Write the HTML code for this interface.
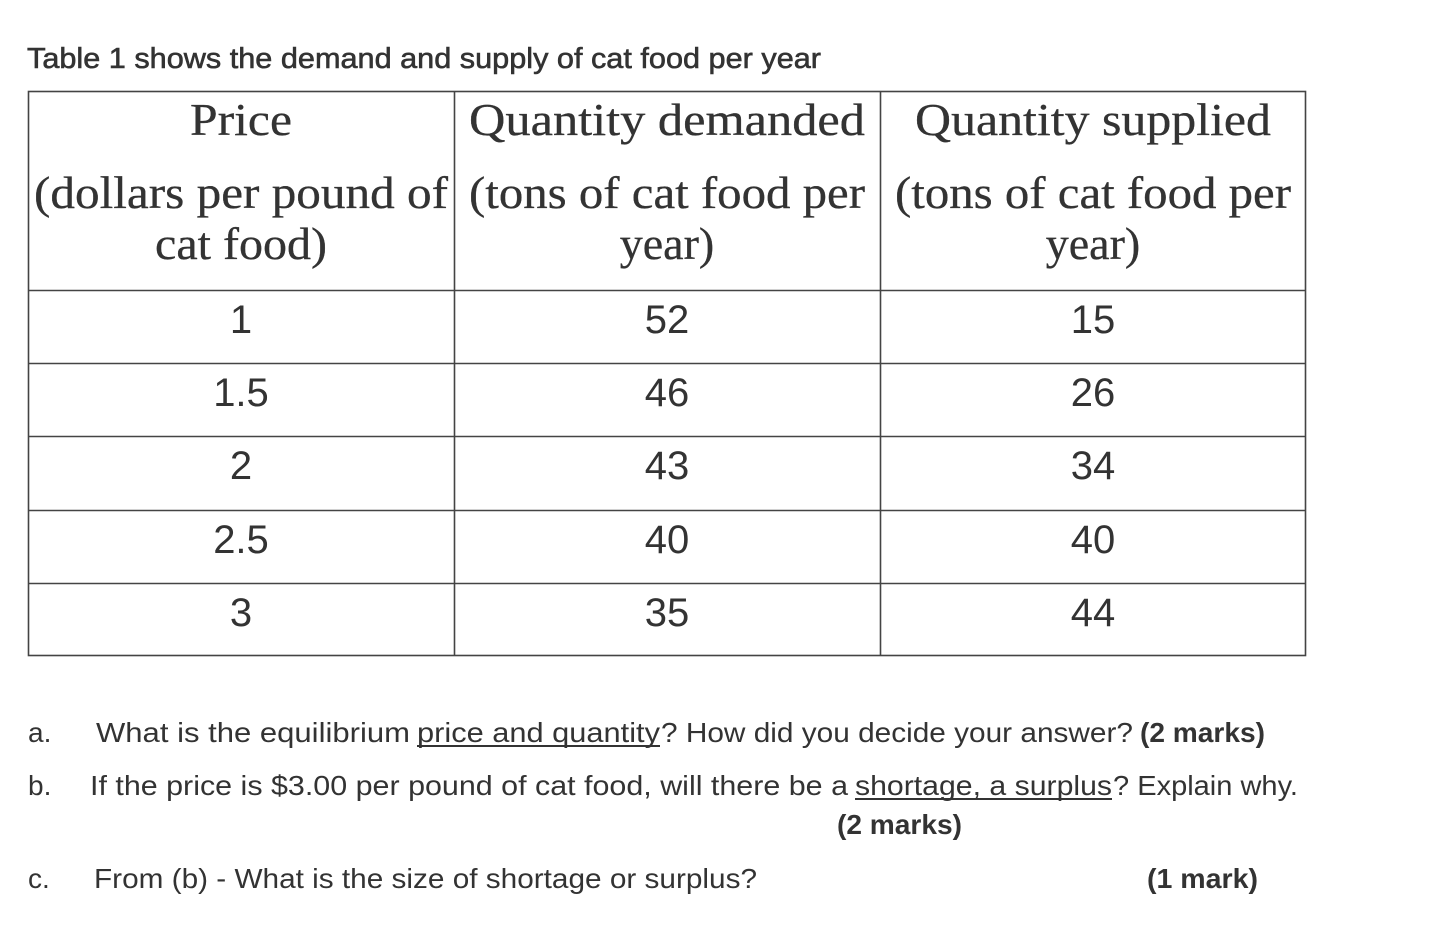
<!DOCTYPE html>
<html><head><meta charset="utf-8"><style>
html,body{margin:0;padding:0;background:#fff;}
svg{display:block}
.h{font-family:"Liberation Serif",serif;font-size:46px;fill:#333;text-anchor:middle;stroke:#333;stroke-width:0.3}
.d{font-family:"Liberation Sans",sans-serif;font-size:40px;fill:#333;text-anchor:middle}
.q{font-family:"Liberation Sans",sans-serif;font-size:28px;fill:#333}
.b{font-weight:bold}
</style></head><body>
<svg width="1432" height="933" viewBox="0 0 1432 933">
<text class="q" x="27" y="68" textLength="794" lengthAdjust="spacingAndGlyphs" style="font-size:29px;stroke:#333;stroke-width:0.6">Table 1 shows  the demand and supply of cat food per year</text>
<g stroke="#444" stroke-width="1.6" fill="none">
<rect x="28.5" y="91.5" width="1277" height="564"/>
<line x1="454.5" y1="91" x2="454.5" y2="656"/>
<line x1="880.5" y1="91" x2="880.5" y2="656"/>
<line x1="28" y1="290.5" x2="1306" y2="290.5"/>
<line x1="28" y1="363.5" x2="1306" y2="363.5"/>
<line x1="28" y1="436.5" x2="1306" y2="436.5"/>
<line x1="28" y1="510.5" x2="1306" y2="510.5"/>
<line x1="28" y1="583.5" x2="1306" y2="583.5"/>
</g>
<text class="h" x="241" y="135" textLength="102" lengthAdjust="spacingAndGlyphs">Price</text>
<text class="h" x="241" y="208" textLength="414" lengthAdjust="spacingAndGlyphs">(dollars per pound of</text>
<text class="h" x="241" y="259" textLength="172" lengthAdjust="spacingAndGlyphs">cat food)</text>
<text class="h" x="667" y="135" textLength="396" lengthAdjust="spacingAndGlyphs">Quantity demanded</text>
<text class="h" x="667" y="208" textLength="396" lengthAdjust="spacingAndGlyphs">(tons of cat food per</text>
<text class="h" x="667" y="259">year)</text>
<text class="h" x="1093" y="135" textLength="356" lengthAdjust="spacingAndGlyphs">Quantity supplied</text>
<text class="h" x="1093" y="208" textLength="396" lengthAdjust="spacingAndGlyphs">(tons of cat food per</text>
<text class="h" x="1093" y="259">year)</text>
<g class="d">
<text class="d" x="241" y="333">1</text><text class="d" x="667" y="333">52</text><text class="d" x="1093" y="333">15</text>
<text class="d" x="241" y="406">1.5</text><text class="d" x="667" y="406">46</text><text class="d" x="1093" y="406">26</text>
<text class="d" x="241" y="479">2</text><text class="d" x="667" y="479">43</text><text class="d" x="1093" y="479">34</text>
<text class="d" x="241" y="553">2.5</text><text class="d" x="667" y="553">40</text><text class="d" x="1093" y="553">40</text>
<text class="d" x="241" y="626">3</text><text class="d" x="667" y="626">35</text><text class="d" x="1093" y="626">44</text>
</g>
<text class="q" x="28" y="742">a.</text>
<text class="q" x="96" y="742" textLength="314" lengthAdjust="spacingAndGlyphs">What is the equilibrium</text>
<text class="q" x="417" y="742" textLength="243" lengthAdjust="spacingAndGlyphs">price and quantity</text>
<line x1="417" y1="746" x2="660" y2="746" stroke="#333" stroke-width="2"/>
<text class="q" x="661" y="742" textLength="472" lengthAdjust="spacingAndGlyphs">? How did you decide your answer?</text>
<text class="q b" x="1140" y="742" textLength="125" lengthAdjust="spacingAndGlyphs">(2 marks)</text>
<text class="q" x="28" y="795">b.</text>
<text class="q" x="90" y="795" textLength="758" lengthAdjust="spacingAndGlyphs">If the price is $3.00 per pound of cat food, will there be a</text>
<text class="q" x="855" y="795" textLength="257" lengthAdjust="spacingAndGlyphs">shortage, a surplus</text>
<line x1="855" y1="799" x2="1112" y2="799" stroke="#333" stroke-width="2"/>
<text class="q" x="1113" y="795" textLength="185" lengthAdjust="spacingAndGlyphs">? Explain why.</text>
<text class="q b" x="837" y="834" textLength="125" lengthAdjust="spacingAndGlyphs">(2 marks)</text>
<text class="q" x="28" y="888">c.</text>
<text class="q" x="94" y="888" textLength="663" lengthAdjust="spacingAndGlyphs">From (b) - What is the size of shortage or surplus?</text>
<text class="q b" x="1147" y="888" textLength="111" lengthAdjust="spacingAndGlyphs">(1 mark)</text>
</svg>
</body></html>
